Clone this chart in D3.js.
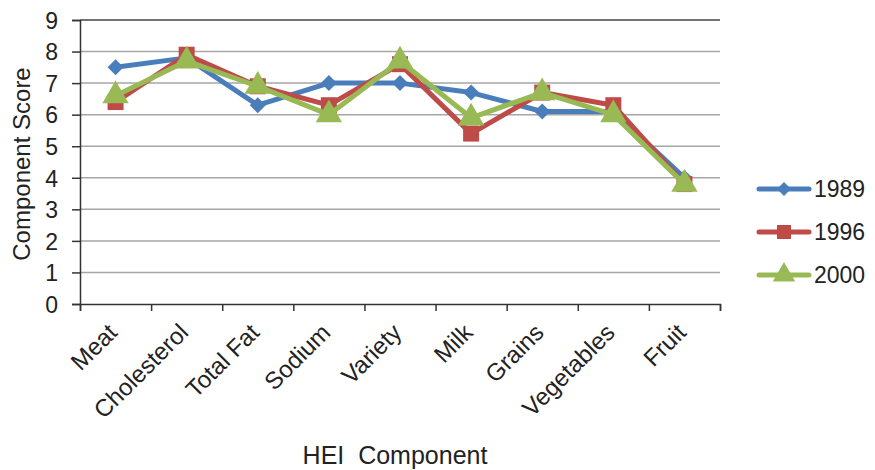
<!DOCTYPE html>
<html>
<head>
<meta charset="utf-8">
<script src="https://cdn.jsdelivr.net/npm/d3@7"></script>
<style>
  body { margin: 0; background: #fff; }
  svg { display: block; font-family: "Liberation Sans", Arial, Helvetica, sans-serif; }
</style>
</head>
<body>
<div id="chart"></div>
<script>
// chart data
const categories = ["Meat", "Cholesterol", "Total Fat", "Sodium", "Variety", "Milk", "Grains", "Vegetables", "Fruit"];
const years = ["1989", "1996", "2000"];
const values1989 = [7.5, 7.8, 6.3, 7.0, 7.0, 6.7, 6.1, 6.1, 4.0];
const values1996 = [6.4, 7.9, 6.9, 6.3, 7.6, 5.4, 6.7, 6.3, 3.8];
const values2000 = [6.6, 7.7, 6.9, 6.0, 7.7, 5.9, 6.7, 6.0, 3.8];
const yTicks = [0, 1, 2, 3, 4, 5, 6, 7, 8, 9];

const series = [
    { name: years[0], values: values1989, color: "#4a7ebb", marker: "diamond" },
    { name: years[1], values: values1996, color: "#be4b48", marker: "square" },
    { name: years[2], values: values2000, color: "#98b954", marker: "triangle" }
];

const width = 875;
const height = 470;
const plot = { left: 80, right: 720, top: 20, bottom: 304 };

const svg = d3.select("#chart")
    .append("svg")
    .attr("width", width)
    .attr("height", height);

// scales
const x = d3.scaleBand()
    .domain(categories)
    .range([plot.left, plot.right]);

const xEdges = d3.scaleLinear()
    .domain([0, categories.length])
    .range([plot.left, plot.right]);

const y = d3.scaleLinear()
    .domain([0, 9])
    .range([plot.bottom, plot.top]);

// gridlines
svg.append("g")
    .selectAll("line")
    .data(yTicks.filter(d => d > 0))
    .enter()
    .append("line")
    .attr("x1", plot.left)
    .attr("x2", plot.right)
    .attr("y1", d => y(d))
    .attr("y2", d => y(d))
    .attr("stroke", d => d === 9 ? "#444" : "#a6a6a6")
    .attr("stroke-width", 1.5);

// y axis
const yAxis = svg.append("g")
    .attr("transform", `translate(${plot.left},0)`)
    .call(d3.axisLeft(y).tickValues(yTicks).tickSize(8).tickPadding(14));
yAxis.select(".domain").attr("stroke", "#333").attr("stroke-width", 1.5);
yAxis.selectAll(".tick line").attr("stroke", "#333").attr("stroke-width", 1.5);
yAxis.selectAll(".tick text")
    .attr("fill", "#222")
    .style("font-size", "23px")
    .attr("dy", "0.36em");

// x axis (ticks between categories)
const xAxis = svg.append("g")
    .attr("transform", `translate(0,${plot.bottom})`)
    .call(d3.axisBottom(xEdges).ticks(categories.length).tickSize(7).tickFormat(""));
xAxis.select(".domain").attr("stroke", "#333").attr("stroke-width", 1.5);
xAxis.selectAll(".tick line").attr("stroke", "#333").attr("stroke-width", 1.5);

// category labels, rotated
svg.append("g")
    .selectAll("text")
    .data(categories)
    .enter()
    .append("text")
    .attr("transform", d => `translate(${x(d) + x.bandwidth() / 2 + 3},${plot.bottom + 30}) rotate(-45)`)
    .attr("text-anchor", "end")
    .attr("fill", "#222")
    .style("font-size", "24px")
    .text(d => d);

// axis titles
svg.append("text")
    .attr("transform", `translate(30,${(plot.top + plot.bottom) / 2 + 2}) rotate(-90)`)
    .attr("text-anchor", "middle")
    .attr("fill", "#222")
    .style("font-size", "24px")
    .text("Component Score");

svg.append("text")
    .attr("x", 395)
    .attr("y", 464)
    .attr("text-anchor", "middle")
    .attr("fill", "#222")
    .style("font-size", "25px")
    .text("HEI\u00a0 Component");

// marker shapes
function markerPath(type, s) {
    if (type === "diamond") return d3.symbol().type(d3.symbolSquare).size(s * s * 0.5)();
    if (type === "square") return d3.symbol().type(d3.symbolSquare).size(s * s)();
    return d3.symbol().type(d3.symbolTriangle).size(s * s * 0.75)();
}

const line = d3.line()
    .x((d, i) => x(categories[i]) + x.bandwidth() / 2)
    .y(d => y(d));

series.forEach(s => {
    const g = svg.append("g");
    g.append("path")
        .datum(s.values)
        .attr("d", line)
        .attr("fill", "none")
        .attr("stroke", s.color)
        .attr("stroke-width", 5)
        .attr("stroke-linejoin", "round");

    g.selectAll("path.marker")
        .data(s.values)
        .enter()
        .append("path")
        .attr("class", "marker")
        .attr("d", markerPath(s.marker, s.marker === "triangle" ? 20 : 16))
        .attr("transform", (d, i) => {
            const cx = x(categories[i]) + x.bandwidth() / 2;
            const rot = s.marker === "diamond" ? " rotate(45)" : "";
            return `translate(${cx},${y(d)})${rot}`;
        })
        .attr("fill", s.color);
});

// legend
const legend = svg.append("g")
    .selectAll("g")
    .data(series)
    .enter()
    .append("g")
    .attr("transform", (d, i) => `translate(757,${189 + i * 43})`);

legend.append("line")
    .attr("x1", 2)
    .attr("x2", 52)
    .attr("stroke", d => d.color)
    .attr("stroke-width", 5)
    .attr("stroke-linecap", "round");

legend.append("path")
    .attr("d", d => markerPath(d.marker, d.marker === "triangle" ? 17 : 14))
    .attr("transform", d => `translate(27,0)${d.marker === "diamond" ? " rotate(45)" : ""}`)
    .attr("fill", d => d.color);

legend.append("text")
    .attr("x", 57)
    .attr("dy", "0.36em")
    .attr("fill", "#222")
    .style("font-size", "23px")
    .text(d => d.name);
</script>
</body>
</html>
